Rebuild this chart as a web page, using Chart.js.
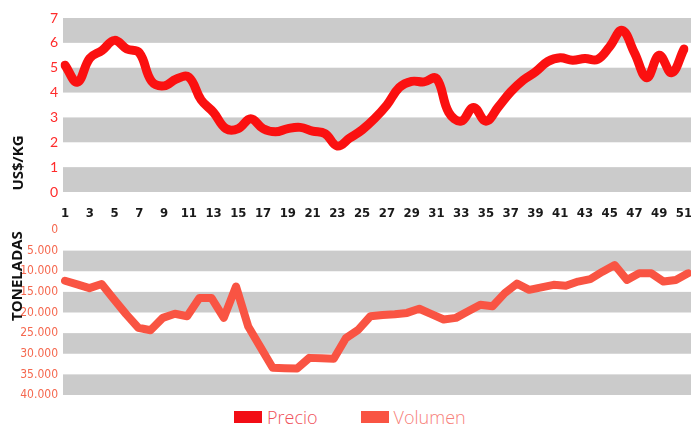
<!DOCTYPE html>
<html>
<head>
<meta charset="utf-8">
<script src="https://cdn.jsdelivr.net/npm/chart.js@4"></script>
<style>
  body { margin: 0; background: #fff; overflow: hidden; width: 691px; height: 426px; }
  canvas { display: block; }
  #legend { position: absolute; top: 405px; left: 234px; display: flex; align-items: center; font-family: 'Open Sans', sans-serif; font-weight: 300; font-size: 18px; }
  #legend span.box { display: inline-block; width: 28px; height: 12px; margin-right: 5px; }
  #legend .item { display: flex; align-items: center; margin-right: 43px; }
</style>
</head>
<body>
<canvas id="priceChart" width="691" height="222"></canvas>
<canvas id="volumeChart" width="691" height="180"></canvas>
<div id="legend"></div>
<script>
// weeks
const weeks = [];
for (let i = 1; i <= 51; i++) weeks.push(String(i));
const volumeWeeks = [];
for (let i = 1; i <= 52; i++) volumeWeeks.push(String(i));

// US$/KG
const precio = [
  5.1, 4.42, 5.38, 5.7, 6.1, 5.75, 5.6, 4.45, 4.27, 4.55,
  4.62, 3.7, 3.2, 2.55, 2.55, 2.95, 2.55, 2.42, 2.55, 2.6,
  2.45, 2.35, 1.85, 2.17, 2.5, 2.95, 3.5, 4.2, 4.45, 4.43,
  4.57, 3.2, 2.85, 3.4, 2.85, 3.42, 4.03, 4.5, 4.83, 5.25,
  5.4, 5.3, 5.37, 5.33, 5.85, 6.5, 5.6, 4.6, 5.5, 4.8,
  5.75,
];

// toneladas
const volumen = [
  12300, 13200, 14100, 13100, 16800, 20400, 23700, 24300, 21300, 20300,
  20900, 16500, 16500, 21300, 13700, 23400, 28400, 33400, 33500, 33600,
  31000, 31100, 31200, 26200, 24200, 20900, 20600, 20400, 20100, 19100,
  20400, 21700, 21300, 19700, 18100, 18500, 15300, 13000, 14500, 13900,
  13300, 13500, 12500, 11900, 10100, 8500, 12100, 10500, 10500, 12500,
  12100, 10500,
];

const precioColor = '#fb1010';
const volumenColor = '#f95443';

// grey bands on every other tick step
const bands = {
  id: 'bands',
  beforeDraw(chart) {
    const {ctx, chartArea, scales: {y}} = chart;
    const ticks = y.ticks;
    ctx.save();
    ctx.fillStyle = '#cbcbcb';
    for (let i = 0; i + 1 < ticks.length; i += 2) {
      const y1 = y.getPixelForValue(ticks[i].value);
      const y2 = y.getPixelForValue(ticks[i + 1].value);
      ctx.fillRect(chartArea.left - 2, Math.min(y1, y2), chart.width - chartArea.left + 2, Math.abs(y2 - y1));
    }
    ctx.restore();
  },
};

// rotated side title
const sideTitle = {
  id: 'sideTitle',
  afterDraw(chart, args, opts) {
    const ctx = chart.ctx;
    ctx.save();
    ctx.translate(opts.x, opts.y);
    ctx.rotate(-Math.PI / 2);
    ctx.font = 'bold 15px "Open Sans", sans-serif';
    ctx.fillStyle = '#111';
    ctx.textAlign = 'center';
    ctx.textBaseline = 'middle';
    ctx.fillText(opts.text, 0, 0);
    ctx.restore();
  },
};

// keep the plot edges where the layout padding puts them
const noEdgePadding = s => {
  s.paddingLeft = 0;
  s.paddingRight = 0;
  s.paddingTop = 0;
  s.paddingBottom = 0;
};

new Chart(document.getElementById('priceChart'), {
  type: 'line',
  data: {
    labels: weeks,
    datasets: [{
      label: 'Precio',
      data: precio,
      borderColor: precioColor,
      borderWidth: 9,
      tension: 0.4,
      pointRadius: 0,
      borderCapStyle: 'round',
      borderJoinStyle: 'round',
    }],
  },
  options: {
    responsive: false,
    animation: false,
    layout: { padding: { top: 18, right: 7, bottom: 0, left: 0 } },
    plugins: {
      legend: { display: false },
      tooltip: { enabled: false },
      sideTitle: { text: 'US$/KG', x: 19, y: 163 },
    },
    scales: {
      x: {
        grid: { display: false, drawTicks: false },
        border: { display: false },
        afterFit: s => { s.height = 30; noEdgePadding(s); },
        ticks: {
          autoSkip: false,
          maxRotation: 0,
          padding: 14,
          color: '#1a1a1a',
          font: { family: "'Liberation Sans Narrow', 'DejaVu Sans Condensed', sans-serif", weight: 'bold', size: 13 },
          callback: (v, i) => (i % 2 === 0 ? weeks[i] : ''),
        },
      },
      y: {
        min: 0,
        max: 7,
        grid: { display: false, drawTicks: false },
        border: { display: false },
        afterFit: s => { s.width = 65; noEdgePadding(s); },
        ticks: {
          stepSize: 1,
          padding: 7,
          color: '#ff2b2b',
          font: { family: 'Lato, sans-serif', size: 14 },
        },
      },
    },
  },
  plugins: [bands, sideTitle],
});

new Chart(document.getElementById('volumeChart'), {
  type: 'line',
  data: {
    labels: volumeWeeks,
    datasets: [{
      label: 'Volumen',
      data: volumen,
      borderColor: volumenColor,
      borderWidth: 8,
      tension: 0,
      pointRadius: 0,
      borderCapStyle: 'round',
      borderJoinStyle: 'round',
    }],
  },
  options: {
    responsive: false,
    animation: false,
    layout: { padding: { top: 8, right: 3, bottom: 7, left: 0 } },
    plugins: {
      legend: { display: false },
      tooltip: { enabled: false },
      sideTitle: { text: 'TONELADAS', x: 18, y: 54 },
    },
    scales: {
      x: { display: false },
      y: {
        min: 0,
        max: 40000,
        reverse: true,
        grid: { display: false, drawTicks: false },
        border: { display: false },
        afterFit: s => { s.width = 65; noEdgePadding(s); },
        ticks: {
          stepSize: 5000,
          padding: 7,
          color: '#f5684f',
          font: { family: "'DejaVu Sans Condensed', sans-serif", size: 12 },
          callback: v => v.toLocaleString('de-DE'),
        },
      },
    },
  },
  plugins: [bands, sideTitle],
});

// legend
const legendItems = [
  { name: 'Precio', box: '#f20d15', text: '#f0505a' },
  { name: 'Volumen', box: volumenColor, text: '#f77f7a' },
];
const legend = document.getElementById('legend');
legendItems.forEach(x => {
  const item = document.createElement('div');
  item.className = 'item';
  item.innerHTML = '<span class="box" style="background:' + x.box + '"></span><span style="color:' + x.text + '">' + x.name + '</span>';
  legend.appendChild(item);
});
</script>
</body>
</html>
